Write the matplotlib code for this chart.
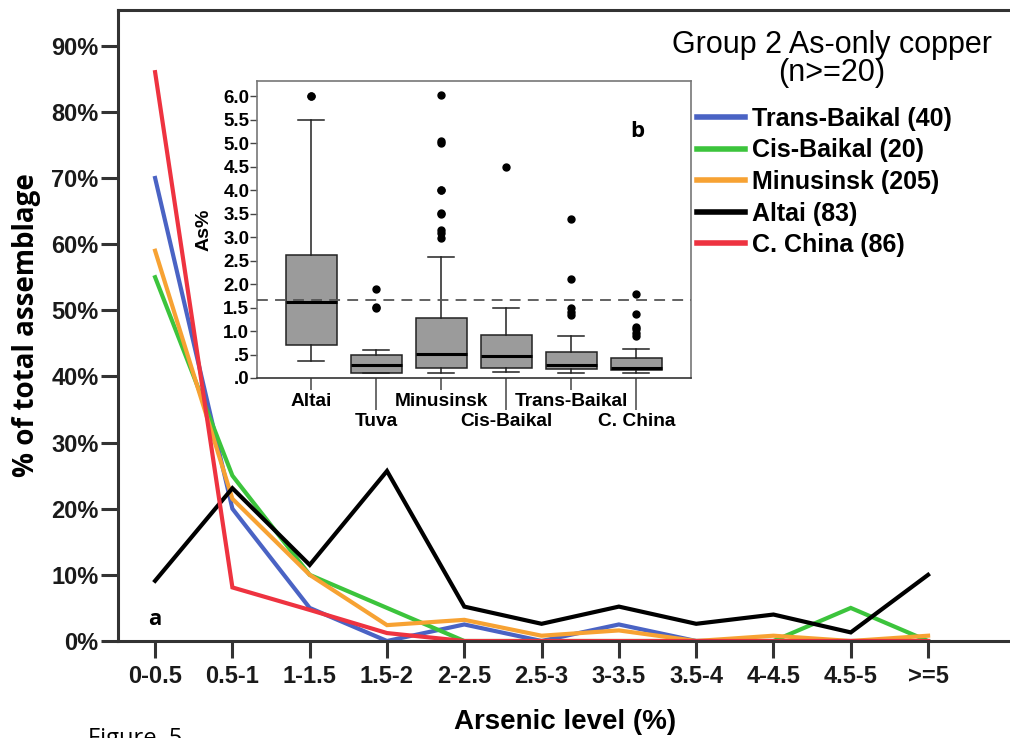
import numpy as np
import matplotlib
matplotlib.use('Agg')
from matplotlib import pyplot as plt
from matplotlib.lines import Line2D

# arsenic bins (main panel a)
bins = ['0-0.5', '0.5-1', '1-1.5', '1.5-2', '2-2.5', '2.5-3',
        '3-3.5', '3.5-4', '4-4.5', '4.5-5', '>=5']

trans_baikal = [70.0, 20.0, 5.0, 0.0, 2.5, 0.0, 2.5, 0.0, 0.0, 0.0, 0.0]
cis_baikal = [55.0, 25.0, 10.0, 5.0, 0.0, 0.0, 0.0, 0.0, 0.0, 5.0, 0.0]
minusinsk = [59.0, 21.5, 10.0, 2.4, 3.2, 0.8, 1.6, 0.0, 0.8, 0.0, 0.8]
altai = [9.1, 23.1, 11.5, 25.7, 5.2, 2.6, 5.2, 2.6, 4.0, 1.3, 10.0]
c_china = [86.0, 8.1, 4.7, 1.2, 0.0, 0.0, 0.0, 0.0, 0.0, 0.0, 0.0]

series_names = ['Trans-Baikal (40)', 'Cis-Baikal (20)', 'Minusinsk (205)',
                'Altai (83)', 'C. China (86)']
series_colors = ['#4a63c4', '#3cc43c', '#f7a233', '#000000', '#ee3340']

# inset box plot (panel b), As%
box_regions = ['Altai', 'Tuva', 'Minusinsk', 'Cis-Baikal', 'Trans-Baikal', 'C. China']
box_whislo = [0.36, 0.10, 0.10, 0.13, 0.10, 0.10]
box_q1 = [0.71, 0.10, 0.21, 0.22, 0.20, 0.16]
box_med = [1.61, 0.27, 0.52, 0.47, 0.28, 0.22]
box_q3 = [2.62, 0.50, 1.28, 0.91, 0.55, 0.43]
box_whishi = [5.49, 0.60, 2.57, 1.49, 0.90, 0.62]
box_fliers = [[6.0, 6.01],
              [1.89, 1.49, 1.51],
              [6.04, 5.06, 5.0, 4.01, 4.0, 3.52, 3.5, 3.15, 3.08, 2.99],
              [4.5],
              [3.38, 2.11, 1.49, 1.40, 1.34],
              [1.80, 1.36, 1.09, 1.04, 0.95, 0.90]]
threshold = 1.66

sans = ['Liberation Sans', 'DejaVu Sans']
calibri_like = ['Open Sans', 'DejaVu Sans']

fig = plt.figure(figsize=(10.10, 7.38), dpi=100)
ax = fig.add_axes([118/1010, 97/738, 892/1010, 631/738])

x = np.arange(len(bins))
all_series = [trans_baikal, cis_baikal, minusinsk, altai, c_china]
for vals, col, name in zip(all_series, series_colors, series_names):
    ax.plot(x, vals, color=col, linewidth=3, label=name, solid_joinstyle='miter')

ax.set_xlim(-0.48, 11.06)
ax.set_ylim(0, 95.4)
ax.set_yticks(np.arange(0, 91, 10))
ax.set_yticklabels(['%d%%' % v for v in range(0, 91, 10)], family=sans,
                   fontweight='bold', fontsize=17, color='#1a1a1a')
ax.set_xticks(x)
ax.set_xticklabels(bins, family=sans, fontweight='bold', fontsize=17, color='#1a1a1a')
ax.tick_params(axis='both', direction='out', length=12, width=2.2, color='#333333')
ax.tick_params(axis='y', pad=2)
ax.tick_params(axis='x', pad=5)
for s in ['left', 'bottom', 'top']:
    ax.spines[s].set_linewidth(2.2)
    ax.spines[s].set_color('#333333')
ax.spines['right'].set_visible(False)

ax.set_ylabel('% of total assemblage', family=calibri_like,
              fontweight='bold', fontsize=20, labelpad=7)
ax.set_xlabel('Arsenic level (%)', family=sans, fontweight='bold', fontsize=20, va='center')
ax.xaxis.set_label_coords((565 - 118) / 892, (641 - 722) / 631)
ax.text(0, 3.2, 'a', family=calibri_like, fontweight='bold',
        fontsize=16, ha='center', va='center')

fig.text(832/1010, 1 - 59/738, 'Group 2 As-only copper\n(n>=20)', ha='center', va='center',
         family=sans, fontsize=22, linespacing=0.95)

handles = [Line2D([], [], color=c, linewidth=4) for c in series_colors]
leg = fig.legend(handles, series_names, loc='upper left',
                 bbox_to_anchor=(697/1010, 1 - 107/738), frameon=False,
                 prop={'family': sans, 'weight': 'bold', 'size': 18},
                 handlelength=1.9, handletextpad=0.3, labelspacing=0.30, borderpad=0,
                 borderaxespad=0)

# inset b
ax2 = fig.add_axes([257/1010, 360/738, 434/1010, 297/738])
stats = []
for i in range(len(box_regions)):
    stats.append({'whislo': box_whislo[i], 'q1': box_q1[i], 'med': box_med[i],
                  'q3': box_q3[i], 'whishi': box_whishi[i], 'fliers': box_fliers[i]})
ax2.bxp(stats, positions=np.arange(len(box_regions)), widths=0.78, capwidths=0.4,
        patch_artist=True,
        boxprops={'facecolor': '#9b9b9b', 'edgecolor': '#222222', 'linewidth': 1.1},
        medianprops={'color': '#000000', 'linewidth': 2.2},
        whiskerprops={'color': '#222222', 'linewidth': 1.1},
        capprops={'color': '#222222', 'linewidth': 1.1},
        flierprops={'marker': 'o', 'markerfacecolor': 'black', 'markeredgecolor': 'black',
                    'markersize': 5})
ax2.axhline(threshold, color='#555555', linestyle=(0, (6, 4)), linewidth=1.3, zorder=5)
ax2.set_xlim(-0.835, 5.84)
ax2.set_ylim(0, 6.33)
ax2.set_yticks(np.arange(0, 6.01, 0.5))
ax2.set_yticklabels(['.0', '.5', '1.0', '1.5', '2.0', '2.5', '3.0', '3.5', '4.0',
                     '4.5', '5.0', '5.5', '6.0'], fontweight='bold', fontsize=13.5,
                    family=sans)
ax2.tick_params(axis='y', direction='out', length=5, width=1, pad=0.5, color='#444444')
ax2.set_xticks([0, 2, 4])
ax2.set_xticklabels([box_regions[0], box_regions[2], box_regions[4]])
ax2.set_xticks([1, 3, 5], minor=True)
ax2.set_xticklabels([box_regions[1], box_regions[3], box_regions[5]], minor=True)
for lbl in ax2.get_xticklabels(which='both'):
    lbl.set_fontweight('bold')
    lbl.set_fontsize(13.8)
    lbl.set_family(sans)
ax2.tick_params(axis='x', which='major', direction='out', length=8.6, width=1.1, pad=2, color='#444444')
ax2.tick_params(axis='x', which='minor', direction='out', length=23, width=1.1, pad=2, color='#444444')
for s in ax2.spines.values():
    s.set_color('#777777')
    s.set_linewidth(1.2)
ax2.spines['bottom'].set_color('#333333')
ax2.set_ylabel('As%', fontweight='bold', fontsize=14, family=sans, labelpad=8)
ax2.text(5.02, 5.25, 'b', fontweight='bold', fontsize=16, ha='center', va='center',
         family=calibri_like)

fig.text(88/1010, 1 - 745/738, 'Figure  5', family=calibri_like,
         fontsize=17, ha='left', va='baseline')

plt.savefig('out.png', dpi=100)
